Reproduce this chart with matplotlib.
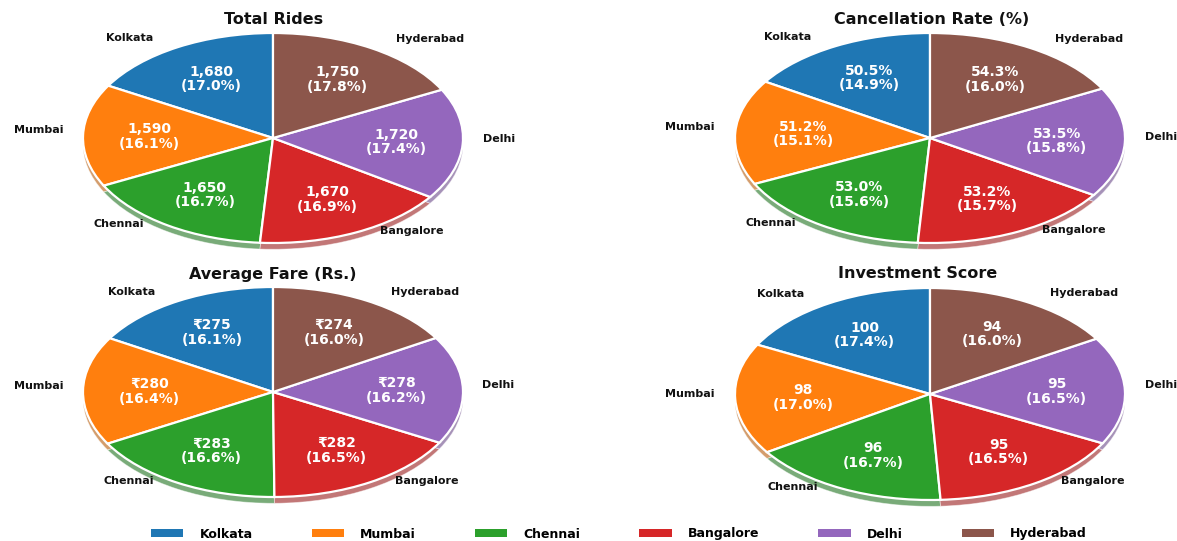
import matplotlib
matplotlib.use('Agg')
import numpy as np
import matplotlib.pyplot as plt
from matplotlib.patches import Patch
from matplotlib.colors import to_rgb

plt.rcParams['font.family'] = ['DejaVu Sans', 'Noto Sans']

# ---------------- data ----------------
cities = ['Kolkata', 'Mumbai', 'Chennai', 'Bangalore', 'Delhi', 'Hyderabad']
colors = ['#1f77b4', '#ff7f0e', '#2ca02c', '#d62728', '#9467bd', '#8c564b']

total_rides = [1680, 1590, 1650, 1670, 1720, 1750]
rides_pct = [17.0, 16.1, 16.7, 16.9, 17.4, 17.8]

cancel_rate = [50.5, 51.2, 53.0, 53.2, 53.5, 54.3]
cancel_pct = [14.9, 15.1, 15.6, 15.7, 15.8, 16.0]

avg_fare = [275, 280, 283, 282, 278, 274]
fare_pct = [16.1, 16.4, 16.6, 16.5, 16.2, 16.0]

invest_score = [100, 98, 96, 95, 95, 94]
invest_pct = [17.4, 17.0, 16.7, 16.5, 16.5, 16.0]

titles = ['Total Rides', 'Cancellation Rate (%)', 'Average Fare (Rs.)', 'Investment Score']

rides_labels = [f'{v:,}' for v in total_rides]
cancel_labels = [f'{v:.1f}%' for v in cancel_rate]
fare_labels = [f'\u20b9{v}' for v in avg_fare]
invest_labels = [f'{v}' for v in invest_score]

# ---------------- figure ----------------
W, H = 1177, 541
fig = plt.figure(figsize=(W / 100, H / 100), dpi=100)
L = 1.35


def shade(c, k=0.72, a=0.6):
    r, g, b = to_rgb(c)
    r, g, b = r * k, g * k, b * k
    return (a * r + (1 - a), a * g + (1 - a), a * b + (1 - a))


def draw_pie(cx, cy, rx, ry, values, val_labels, pcts, title, tx, ty):
    ax = fig.add_axes([(cx - L * rx) / W, 1 - (cy + L * ry) / H,
                       2 * L * rx / W, 2 * L * ry / H])
    # 3D-like shadow rim
    ax.pie(values, colors=[shade(c) for c in colors], startangle=90,
           center=(0, -0.06), wedgeprops=dict(linewidth=0.6, edgecolor=(1, 1, 1, 0.5)))
    texts_iter = iter([f'{v}\n({p:.1f}%)' for v, p in zip(val_labels, pcts)])
    wedges, texts, autotexts = ax.pie(
        values, labels=cities, colors=colors, startangle=90,
        autopct=lambda p: next(texts_iter), pctdistance=0.65, labeldistance=1.1,
        wedgeprops=dict(edgecolor='white', linewidth=1.6),
        textprops=dict(fontsize=8, fontweight='bold', color='#111111'))
    # nudge outer labels to follow the reference's placement around the ellipse
    for w, t in zip(wedges, texts):
        ang = np.deg2rad((w.theta1 + w.theta2) / 2)
        c, s = np.cos(ang), np.sin(ang)
        x = 1.1 * c + 0.09 * np.sign(c) * abs(s)
        y = 1.04 * s + 0.05
        t.set_position((x, y))
    for t in autotexts:
        t.set_color('white')
        t.set_fontsize(10)
        t.set_fontweight('bold')
        t.set_linespacing(1.05)
    ax.set_aspect('auto')
    ax.set_xlim(-L, L)
    ax.set_ylim(-L, L)
    ax.axis('off')
    fig.text(tx / W, 1 - ty / H, title, ha='center', va='center',
             fontsize=11.5, fontweight='bold', color='#111111')
    return ax


draw_pie(273, 138, 190, 105, total_rides, rides_labels, rides_pct, titles[0], 274, 19)
draw_pie(930, 138, 195, 105, cancel_rate, cancel_labels, cancel_pct, titles[1], 932, 19)
draw_pie(273, 392, 190, 105, avg_fare, fare_labels, fare_pct, titles[2], 273, 274)
draw_pie(930, 394, 195, 106, invest_score, invest_labels, invest_pct, titles[3], 918, 274)

handles = [Patch(facecolor=c, edgecolor='none') for c in colors]
fig.legend(handles, cities, loc='center', bbox_to_anchor=(619 / W, 1 - 534 / H),
           ncol=6, frameon=False, handlelength=2.6, handleheight=0.55,
           handletextpad=1.3, columnspacing=4.7,
           prop={'weight': 'bold', 'size': 9})

fig.savefig('out.png', dpi=100, facecolor='white')
